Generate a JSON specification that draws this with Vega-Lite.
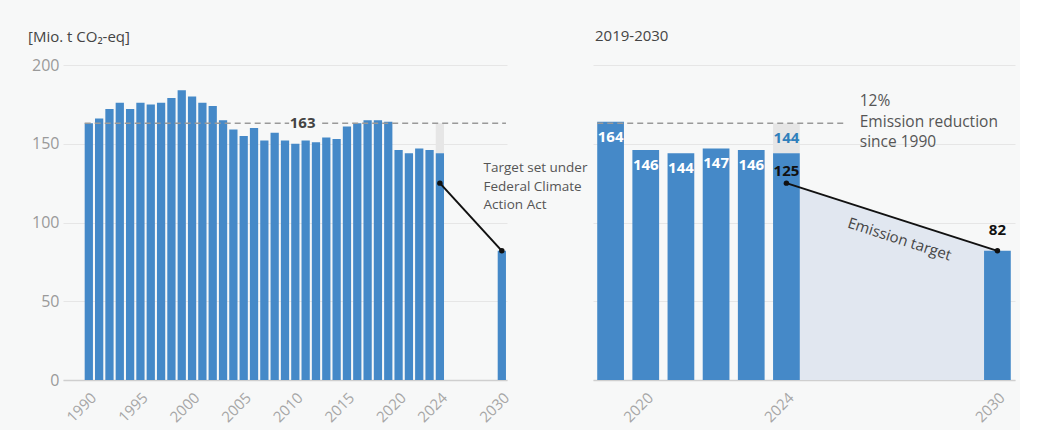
{
  "$schema": "https://vega.github.io/schema/vega-lite/v6.json",
  "background": "#f7f8f8",
  "padding": {"left": 28, "top": 29, "right": 5, "bottom": 5},
  "config": {
    "font": "Open Sans",
    "view": {"stroke": null},
    "title": {"anchor": "start", "frame": "group", "fontSize": 15, "fontWeight": "normal", "color": "#444444", "font": "Open Sans"}
  },
  "datasets": {
    "emissions": [
      {"year": 1990, "value": 163}, {"year": 1991, "value": 166}, {"year": 1992, "value": 172},
      {"year": 1993, "value": 176}, {"year": 1994, "value": 172}, {"year": 1995, "value": 176},
      {"year": 1996, "value": 175}, {"year": 1997, "value": 176}, {"year": 1998, "value": 179},
      {"year": 1999, "value": 184}, {"year": 2000, "value": 180}, {"year": 2001, "value": 176},
      {"year": 2002, "value": 174}, {"year": 2003, "value": 165}, {"year": 2004, "value": 159},
      {"year": 2005, "value": 155}, {"year": 2006, "value": 160}, {"year": 2007, "value": 152},
      {"year": 2008, "value": 157}, {"year": 2009, "value": 152}, {"year": 2010, "value": 150},
      {"year": 2011, "value": 152}, {"year": 2012, "value": 151}, {"year": 2013, "value": 154},
      {"year": 2014, "value": 153}, {"year": 2015, "value": 161}, {"year": 2016, "value": 163},
      {"year": 2017, "value": 165}, {"year": 2018, "value": 165}, {"year": 2019, "value": 164},
      {"year": 2020, "value": 146}, {"year": 2021, "value": 144}, {"year": 2022, "value": 147},
      {"year": 2023, "value": 146}, {"year": 2024, "value": 144}, {"year": 2030, "value": 82}
    ],
    "target": [{"year": 2024, "value": 125}, {"year": 2030, "value": 82}],
    "highlight": [{"year": 2024, "low": 144, "high": 163}],
    "refLeft": [{"from": 1990, "to": 2009, "value": 163}, {"from": 2013, "to": 2030, "value": 163}],
    "refRight": [{"from": 2019, "to": 2026, "value": 163}],
    "baseLabel": [{"year": 2011, "value": 163}],
    "leftNote": [{"year": 2029, "value": 134.5}],
    "bar2024": [{"year": 2024, "value": 163}],
    "target2024": [{"year": 2024, "value": 125}],
    "target2030": [{"year": 2030, "value": 82}],
    "rightNote": [{"year": 2026, "value": 177}],
    "targetNote": [{"year": 2027, "value": 91}]
  },
  "hconcat": [
    {
      "width": 444,
      "height": 315,
      "title": {"text": "[Mio. t CO₂-eq]", "dx": -35, "offset": 12},
      "encoding": {
        "x": {
          "field": "year", "type": "ordinal",
          "scale": {"domain": [1988,1989,1990,1991,1992,1993,1994,1995,1996,1997,1998,1999,2000,2001,2002,2003,2004,2005,2006,2007,2008,2009,2010,2011,2012,2013,2014,2015,2016,2017,2018,2019,2020,2021,2022,2023,2024,2025,2026,2027,2028,2029,2030], "paddingInner": 0.2, "paddingOuter": 0.1},
          "axis": {"values": [1990,1995,2000,2005,2010,2015,2020,2024,2030], "labelAngle": -45, "labelColor": "#a6a6a6", "labelFontSize": 15, "ticks": false, "domainColor": "#cfcfcf", "domainWidth": 1.5, "title": null, "grid": false, "labelPadding": 10}
        },
        "y": {
          "field": "value", "type": "quantitative",
          "scale": {"domain": [0, 200]},
          "axis": {"values": [0,50,100,150,200], "labelColor": "#9a9a9a", "labelFontSize": 16, "ticks": false, "domain": false, "gridColor": "#e6e6e6", "title": null, "labelPadding": 4}
        }
      },
      "layer": [
        {
          "data": {"name": "highlight"},
          "mark": {"type": "bar", "color": "#e6e6e6"},
          "encoding": {"y": {"field": "low", "type": "quantitative"}, "y2": {"field": "high"}}
        },
        {
          "data": {"name": "emissions"},
          "mark": {"type": "bar", "color": "#4589c8"}
        },
        {
          "data": {"name": "refLeft"},
          "mark": {"type": "rule", "color": "#9a9a9a", "strokeDash": [6, 4], "strokeWidth": 1.5},
          "encoding": {
            "x": {"field": "from", "type": "ordinal", "bandPosition": 0},
            "x2": {"field": "to", "bandPosition": 1},
            "y": {"field": "value", "type": "quantitative"}
          }
        },
        {
          "data": {"name": "baseLabel"},
          "mark": {"type": "text", "fontWeight": "bold", "fontSize": 15, "color": "#444444", "dx": -3},
          "encoding": {"text": {"value": "163"}}
        },
        {
          "data": {"name": "target"},
          "mark": {"type": "line", "color": "#111111", "strokeWidth": 2},
          "encoding": {"x": {"field": "year", "type": "ordinal", "bandPosition": 0.5}}
        },
        {
          "data": {"name": "target"},
          "mark": {"type": "point", "filled": true, "color": "#111111", "size": 30, "opacity": 1},
          "encoding": {"x": {"field": "year", "type": "ordinal", "bandPosition": 0.5}}
        },
        {
          "data": {"name": "leftNote"},
          "mark": {"type": "text", "align": "left", "baseline": "middle", "fontSize": 13.5, "color": "#555555", "lineHeight": 18.5, "dx": -8},
          "encoding": {"text": {"value": ["Target set under", "Federal Climate", "Action Act"]}}
        }
      ]
    },
    {
      "width": 422,
      "height": 315,
      "title": {"text": "2019-2030", "dx": 2, "offset": 21},
      "encoding": {
        "x": {
          "field": "year", "type": "ordinal",
          "scale": {"domain": [2019,2020,2021,2022,2023,2024,2025,2026,2027,2028,2029,2030], "paddingInner": 0.24, "paddingOuter": 0.12},
          "axis": {"values": [2020,2024,2030], "labelAngle": -45, "labelColor": "#a6a6a6", "labelFontSize": 15, "ticks": false, "domainColor": "#cfcfcf", "domainWidth": 1.5, "title": null, "grid": false, "labelPadding": 10}
        },
        "y": {
          "field": "value", "type": "quantitative",
          "scale": {"domain": [0, 200]},
          "axis": {"values": [0,50,100,150,200], "labels": false, "ticks": false, "domain": false, "gridColor": "#e6e6e6", "title": null}
        }
      },
      "layer": [
        {
          "data": {"name": "target"},
          "mark": {"type": "area", "color": "#e1e7f0", "opacity": 1},
          "encoding": {"x": {"field": "year", "type": "ordinal", "bandPosition": 0.5}, "y2": {"datum": 0}}
        },
        {
          "data": {"name": "highlight"},
          "mark": {"type": "bar", "color": "#e6e6e6"},
          "encoding": {"y": {"field": "low", "type": "quantitative"}, "y2": {"field": "high"}}
        },
        {
          "data": {"name": "emissions"},
          "transform": [{"filter": "datum.year >= 2019"}],
          "mark": {"type": "bar", "color": "#4589c8"}
        },
        {
          "data": {"name": "refRight"},
          "mark": {"type": "rule", "color": "#9a9a9a", "strokeDash": [6, 4], "strokeWidth": 1.5},
          "encoding": {
            "x": {"field": "from", "type": "ordinal", "bandPosition": 0},
            "x2": {"field": "to", "bandPosition": 0},
            "y": {"field": "value", "type": "quantitative"}
          }
        },
        {
          "data": {"name": "emissions"},
          "transform": [{"filter": "datum.year >= 2019 && datum.year <= 2023"}],
          "mark": {"type": "text", "fontWeight": "bold", "fontSize": 15, "color": "#ffffff", "baseline": "top", "dy": 8},
          "encoding": {"text": {"field": "value", "type": "quantitative"}}
        },
        {
          "data": {"name": "bar2024"},
          "mark": {"type": "text", "fontWeight": "bold", "fontSize": 15, "color": "#2f7fbc", "baseline": "top", "dy": 8},
          "encoding": {"text": {"value": "144"}}
        },
        {
          "data": {"name": "target"},
          "mark": {"type": "line", "color": "#111111", "strokeWidth": 2},
          "encoding": {"x": {"field": "year", "type": "ordinal", "bandPosition": 0.5}}
        },
        {
          "data": {"name": "target"},
          "mark": {"type": "point", "filled": true, "color": "#111111", "size": 30, "opacity": 1},
          "encoding": {"x": {"field": "year", "type": "ordinal", "bandPosition": 0.5}}
        },
        {
          "data": {"name": "target2024"},
          "mark": {"type": "text", "fontWeight": "bold", "fontSize": 15, "color": "#111111", "baseline": "bottom", "dy": -4},
          "encoding": {"text": {"field": "value", "type": "quantitative"}}
        },
        {
          "data": {"name": "target2030"},
          "mark": {"type": "text", "fontWeight": "bold", "fontSize": 15, "color": "#111111", "baseline": "bottom", "dy": -13},
          "encoding": {"text": {"field": "value", "type": "quantitative"}}
        },
        {
          "data": {"name": "rightNote"},
          "mark": {"type": "text", "align": "left", "baseline": "middle", "fontSize": 15.5, "color": "#555555", "lineHeight": 20.5, "dx": 3},
          "encoding": {"text": {"value": ["12%", "Emission reduction", "since 1990"]}}
        },
        {
          "data": {"name": "targetNote"},
          "mark": {"type": "text", "align": "center", "baseline": "middle", "fontSize": 15, "color": "#444444", "angle": 18, "dx": 8},
          "encoding": {"text": {"value": "Emission target"}}
        }
      ]
    }
  ],
  "spacing": 86,
  "bounds": "flush"
}
